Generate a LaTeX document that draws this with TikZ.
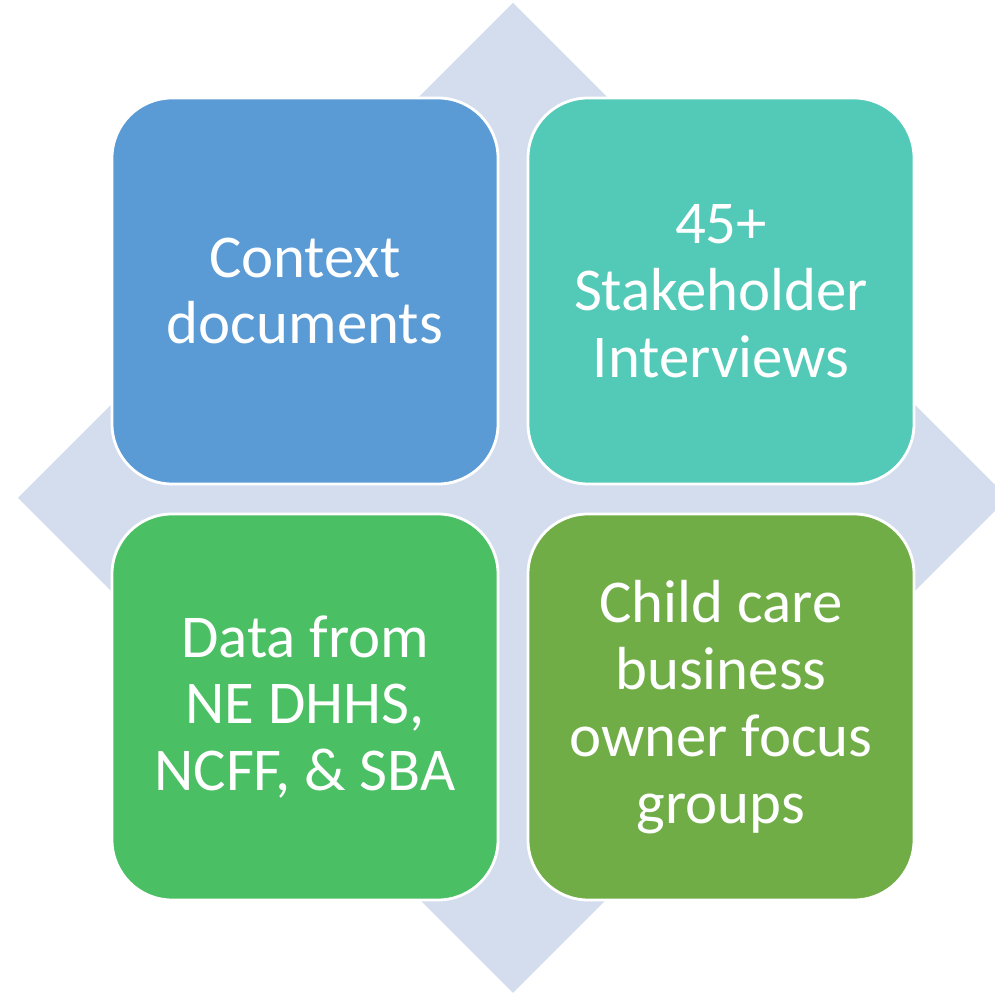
\documentclass[tikz,border=0pt]{standalone}
\usepackage{fontspec}
\setmainfont{Carlito}
\usetikzlibrary{positioning}
\definecolor{diamondbg}{HTML}{D3DDEE}
\definecolor{boxblue}{HTML}{5B9BD5}
\definecolor{boxteal}{HTML}{53C9B8}
\definecolor{boxgreen}{HTML}{4ABF63}
\definecolor{boxolive}{HTML}{70AD47}
\begin{document}
\begin{tikzpicture}
  \tikzstyle{block}=[draw=white, line width=0.8pt, rounded corners=0.6cm,
    minimum width=3.86cm, minimum height=3.86cm, text=white, align=center,
    font=\fontsize{17.3}{19}\selectfont]

  \useasboundingbox (0,0) rectangle (9.95,9.93);
  \clip (0,0) rectangle (9.95,9.93);
  \fill[diamondbg] (0.18,4.95) -- (5.13,9.90) -- (10.08,4.95) -- (5.13,0.0) -- cycle; % Back diamond
  \node[block, fill=boxblue] (ctx) at (3.05,7.02) {Context\\documents}; % Top-left box
  \node[block, fill=boxteal] (intv) at (7.21,7.02) {45+\\Stakeholder\\Interviews}; % Top-right box
  \node[block, fill=boxgreen] (data) at (3.05,2.86) {Data from\\NE DHHS,\\NCFF, \& SBA}; % Bottom-left box
  \node[block, fill=boxolive] (focus) at (7.21,2.86) {Child care\\business\\owner focus\\groups}; % Bottom-right box
\end{tikzpicture}
\end{document}
